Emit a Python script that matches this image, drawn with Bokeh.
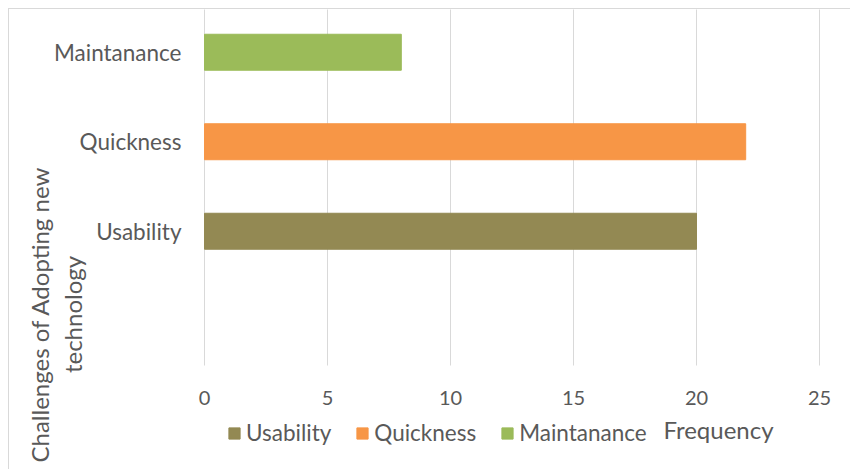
import math
from bokeh.plotting import figure
from bokeh.models import ColumnDataSource, Range1d, Legend, LegendItem, FixedTicker, Label
from bokeh.embed import file_html
from bokeh.resources import INLINE

categories = ["Usability", "Quickness", "Maintanance"]
values = [20, 22, 8]
colors = ["#938953", "#F79646", "#9BBB59"]
x_ticks = [0, 5, 10, 15, 20, 25]
y_title_lines = ["Challenges of Adopting new", "technology"]
x_title = "Frequency"

FONT = "Lato"
GRAY = "#595959"

# layout geometry (pixels)
W, H = 842, 461
PX_PER_X = 24.6          # pixels per frequency unit
PX_PER_SLOT = 89.5       # pixels per category slot
ZERO_X = 195             # pixel offset of x=0 from frame left
ZERO_Y = 356             # pixel offset of y=0 from frame top
SLOTS = len(categories) + 1

x0 = -ZERO_X / PX_PER_X
x1 = x0 + W / PX_PER_X
y1 = ZERO_Y / PX_PER_SLOT
y0 = y1 - H / PX_PER_SLOT

ypos = [i + 1.5 for i in range(len(categories))]
src = ColumnDataSource(dict(y=ypos, val=values, color=colors, cat=categories))

p = figure(width=W, height=H, output_backend="svg", toolbar_location=None,
           x_range=Range1d(x0, x1), y_range=Range1d(y0, y1),
           min_border_left=0, min_border_right=0, min_border_top=0, min_border_bottom=0)
p.styles = {"margin-left": "8px", "margin-top": "8px",
            "border-left": "1px solid #d9d9d9", "border-top": "1px solid #d9d9d9"}
p.outline_line_color = None
p.xgrid.visible = False
p.ygrid.visible = False

# vertical grid lines at the x ticks, spanning the category slots
p.segment(x0=x_ticks, x1=x_ticks, y0=[0] * len(x_ticks), y1=[SLOTS] * len(x_ticks),
          line_color="#d9d9d9", line_width=1)

r = p.hbar(y="y", right="val", left=0, height=0.402, color="color", source=src)

xa = p.xaxis[0]
xa.fixed_location = 0
xa.ticker = FixedTicker(ticks=x_ticks)
xa.axis_line_color = None
xa.major_tick_line_color = None
xa.minor_tick_line_color = None
xa.major_label_standoff = 19
xa.major_label_text_font = FONT
xa.major_label_text_font_size = "20px"
xa.major_label_text_color = GRAY

ya = p.yaxis[0]
ya.fixed_location = 0
ya.ticker = FixedTicker(ticks=ypos)
ya.major_label_overrides = {y: c for y, c in zip(ypos, categories)}
ya.axis_line_color = None
ya.major_tick_line_color = None
ya.minor_tick_line_color = None
ya.major_label_standoff = 17
ya.major_label_text_font = FONT
ya.major_label_text_font_size = "22.5px"
ya.major_label_text_color = GRAY

items = [LegendItem(label=c, renderers=[r], index=i) for i, c in enumerate(categories)]
legend = Legend(items=items, orientation="horizontal", location=(218, 24),
                background_fill_alpha=0, border_line_color=None,
                glyph_width=14, glyph_height=14, label_standoff=5, spacing=24,
                padding=0, margin=0,
                label_text_font=FONT, label_text_font_size="22.5px", label_text_color=GRAY)
p.add_layout(legend, "center")

p.add_layout(Label(x=709, y=41, x_units="screen", y_units="screen", text=x_title,
                   text_align="center", text_baseline="middle", text_font=FONT,
                   text_font_size="24px", text_color=GRAY))

for i, line in enumerate(y_title_lines):
    p.add_layout(Label(x=30 + 33 * i, y=156, x_units="screen", y_units="screen",
                       text=line, angle=math.pi / 2, text_align="center",
                       text_baseline="middle", text_font=FONT, text_font_size="24px",
                       text_color=GRAY))

open("out.html", "w").write(file_html(p, INLINE))
